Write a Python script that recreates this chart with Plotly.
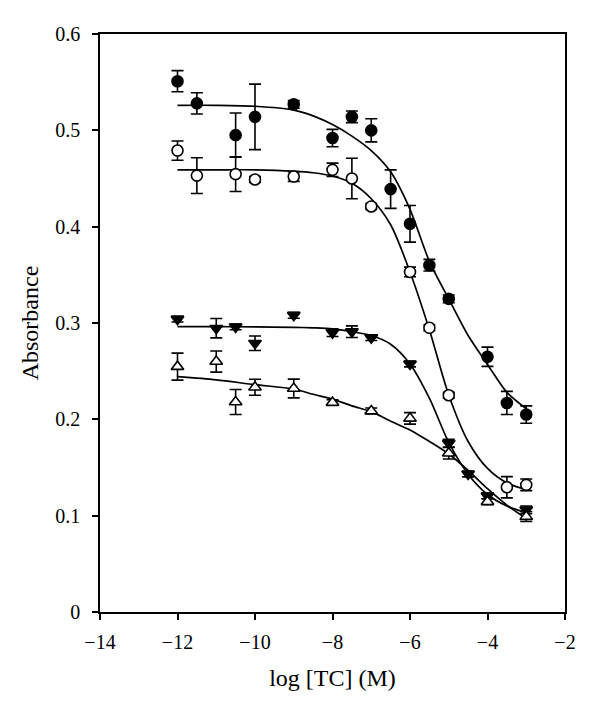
import plotly.graph_objects as go

# ---- data ----
# Filled circles
x_fc = [-12, -11.5, -10.5, -10, -9, -8, -7.5, -7, -6.5, -6, -5.5, -5, -4, -3.5, -3]
y_fc = [0.551, 0.528, 0.495, 0.514, 0.527, 0.492, 0.514, 0.500, 0.439, 0.403, 0.360, 0.325, 0.265, 0.217, 0.205]
e_fc = [0.011, 0.011, 0.023, 0.034, 0.004, 0.009, 0.006, 0.012, 0.020, 0.019, 0.006, 0.004, 0.010, 0.012, 0.009]

# Open circles
x_oc = [-12, -11.5, -10.5, -10, -9, -8, -7.5, -7, -6, -5.5, -5, -3.5, -3]
y_oc = [0.479, 0.453, 0.4545, 0.449, 0.452, 0.459, 0.450, 0.421, 0.353, 0.295, 0.225, 0.1295, 0.132]
e_oc = [0.010, 0.0185, 0.018, 0.003, 0.005, 0.007, 0.021, 0.003, 0.005, 0.003, 0.003, 0.011, 0.006]

# Filled down-triangles
x_ft = [-12, -11, -10.5, -10, -9, -8, -7.5, -7, -6, -5, -4.5, -4, -3]
y_ft = [0.304, 0.2946, 0.296, 0.279, 0.308, 0.290, 0.291, 0.2848, 0.2575, 0.1752, 0.1433, 0.1205, 0.106]
e_ft = [0.003, 0.010, 0.003, 0.0075, 0.003, 0.004, 0.006, 0.003, 0.003, 0.004, 0.003, 0.003, 0.004]

# Open up-triangles
x_ot = [-12, -11, -10.5, -10, -9, -8, -7, -6, -5, -4, -3]
y_ot = [0.2547, 0.260, 0.218, 0.2333, 0.232, 0.2174, 0.2087, 0.201, 0.1648, 0.1145, 0.099]
e_ot = [0.014, 0.011, 0.013, 0.0083, 0.0097, 0.003, 0.003, 0.006, 0.006, 0.003, 0.005]

# Fitted curves
cx = [-12, -11, -10, -9, -8.5, -8, -7.5, -7, -6.5, -6, -5.5, -5, -4.5, -4, -3.5, -3]
cy_fc = [0.526, 0.526, 0.525, 0.521, 0.515, 0.506, 0.494, 0.479, 0.457, 0.418, 0.364, 0.325, 0.287, 0.257, 0.228, 0.211]
cy_oc = [0.459, 0.459, 0.459, 0.4576, 0.456, 0.4526, 0.445, 0.429, 0.402, 0.353, 0.293, 0.2253, 0.177, 0.149, 0.134, 0.127]
cy_ft = [0.2963, 0.2962, 0.296, 0.2955, 0.2950, 0.294, 0.291, 0.287, 0.278, 0.2575, 0.222, 0.176, 0.143, 0.122, 0.110, 0.103]
cy_ot = [0.2443, 0.241, 0.236, 0.2315, 0.226, 0.2210, 0.2140, 0.208, 0.198, 0.189, 0.177, 0.164, 0.147, 0.128, 0.111, 0.097]

x_ticks = [-14, -12, -10, -8, -6, -4, -2]
y_ticks = [0, 0.1, 0.2, 0.3, 0.4, 0.5, 0.6]

FONT = "Liberation Serif, Times New Roman, serif"
fig = go.Figure()

for cy in (cy_fc, cy_oc, cy_ft, cy_ot):
    fig.add_trace(go.Scatter(x=cx, y=cy, mode="lines",
                             line=dict(color="black", width=1.7, shape="spline", smoothing=0.8),
                             hoverinfo="skip"))

def pts(x, y, e, symbol, fill):
    fig.add_trace(go.Scatter(
        x=x, y=y, mode="markers",
        error_y=dict(type="data", array=e, color="black", thickness=1.6, width=6),
        marker=dict(symbol=symbol, size=11, color=fill, line=dict(color="black", width=1.6)),
    ))

pts(x_fc, y_fc, e_fc, "circle", "black")
pts(x_oc, y_oc, e_oc, "circle", "white")
pts(x_ft, y_ft, e_ft, "triangle-down", "black")
pts(x_ot, y_ot, e_ot, "triangle-up", "white")

axis_common = dict(showgrid=False, zeroline=False, showline=True, linecolor="black", linewidth=1.5,
                   mirror=True, ticks="outside", ticklen=6, tickwidth=1.5, tickcolor="black",
                   tickfont=dict(family=FONT, size=20, color="black"))

fig.update_xaxes(range=[-14, -2], tickvals=x_ticks, ticklabelstandoff=5,
                 title=dict(text="log [TC] (M)", font=dict(family=FONT, size=24, color="black"), standoff=17),
                 **axis_common)
fig.update_yaxes(range=[0, 0.6], tickvals=y_ticks, ticklabelstandoff=8,
                 title=dict(text="Absorbance", font=dict(family=FONT, size=24, color="black"), standoff=10),
                 **axis_common)

# the page body adds an 8px offset; margins compensate so the plot box sits at x 100-565, y 34-612
fig.update_layout(width=600, height=710, showlegend=False, plot_bgcolor="white", paper_bgcolor="white",
                  margin=dict(l=92, r=43, t=26, b=106, autoexpand=False))

fig.write_html("out.html")
